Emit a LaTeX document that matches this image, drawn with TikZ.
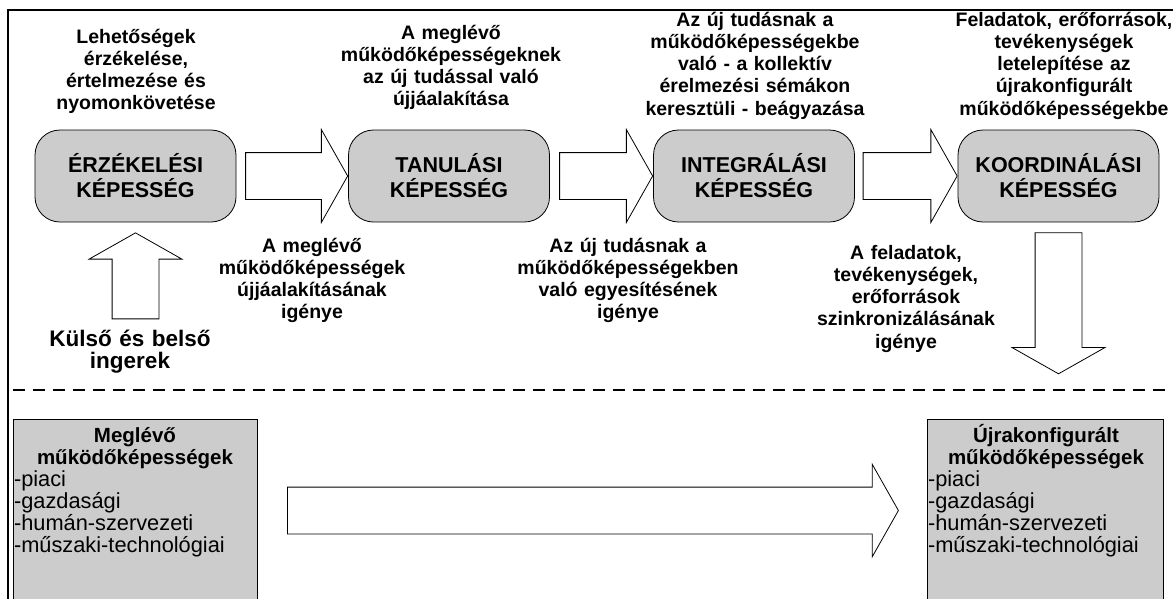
\documentclass[tikz,border=0pt]{standalone}
\usepackage{fontspec}
\setmainfont{Liberation Sans}
\usetikzlibrary{shapes.arrows,calc}
\definecolor{capgray}{RGB}{204,204,204}
\lineskiplimit=-20pt

\begin{document}
\begin{tikzpicture}[x=1pt,y=-1pt,
    capbox/.style={rectangle,rounded corners=25pt,draw,line width=0.8pt,fill=capgray,minimum width=201pt,minimum height=92pt,
      align=center,font=\fontsize{21.5}{25}\selectfont\bfseries},
    desc/.style={text width=240pt,align=center,inner sep=0pt,anchor=base,
      font=\fontsize{19.5}{22.3}\selectfont\bfseries},
    rarrow/.style={single arrow,draw,line width=0.8pt,fill=white,inner sep=0pt,text height=46pt,text depth=0pt,
      single arrow head extend=23pt,single arrow tip angle=121},
    stock/.style={rectangle,draw,line width=0.8pt,fill=capgray,minimum height=200pt,anchor=north west},
    stocklist/.style={text width=230pt,inner sep=0pt,anchor=base,
      font=\fontsize{21.8}{22.2}\selectfont\mdseries}]
    \useasboundingbox (0,0) rectangle (1173,598);
    \clip (0,0) rectangle (1173,598);
    % frame and divider
    \draw[line width=2.2pt] (8,10) rectangle (1200,640);
    \draw[line width=1.5pt,dash pattern=on 12pt off 8pt] (13,390) -- (1180,390);
    % capability boxes
    \node[capbox] (erz) at (135.5,176) {ÉRZÉKELÉSI\\KÉPESSÉG};
    \node[capbox] (tan) at (449,176) {TANULÁSI\\KÉPESSÉG};
    \node[capbox] (intg) at (754,176) {INTEGRÁLÁSI\\KÉPESSÉG};
    \node[capbox] (koo) at (1058.5,176) {KOORDINÁLÁSI\\KÉPESSÉG};
    \node[rarrow,minimum height=102pt,anchor=tip] (a1) at (tan.west) {};
    \node[rarrow,minimum height=93pt,anchor=tip] (a2) at (intg.west) {};
    \node[rarrow,minimum height=94pt,anchor=tip] (a3) at (koo.west) {};
    \node[rarrow,minimum height=86pt,rotate=90,anchor=tip] (inup) at ($(erz.south)+(0,10)$) {};
    \node[rarrow,minimum height=141pt,rotate=-90,anchor=tail] (outdn) at ($(koo.south)+(0,10)$) {};
    % texts above
    \node[desc] (t1) at (136,43) {Lehetőségek\\érzékelése,\\értelmezése és\\nyomonkövetése};
    \node[desc] (t2) at (451,39) {A meglévő\\működőképességeknek\\az új tudással való\\újjáalakítása};
    \node[desc] (t3) at (755,26) {Az új tudásnak a\\működőképességekbe\\való - a kollektív\\érelmezési sémákon\\keresztüli - beágyazása};
    \node[desc] (t4) at (1064,26) {Feladatok, erőforrások,\\tevékenységek\\letelepítése az\\újrakonfigurált\\működőképességekbe};
    % texts below
    \node[desc] (u1) at (312,252) {A meglévő\\működőképességek\\újjáalakításának\\igénye};
    \node[desc] (u2) at (628,252) {Az új tudásnak a\\működőképességekben\\való egyesítésének\\igénye};
    \node[desc] (u3) at (906,259) {A feladatok,\\tevékenységek,\\erőforrások\\szinkronizálásának\\igénye};
    \node[desc,font=\fontsize{22.5}{22}\selectfont\bfseries] (ingr) at (130,346) {Külső és belső\\ingerek};
    % stocks of capabilities
    \node[stock,minimum width=244pt] (megl) at (13,419) {};
    \node[stock,minimum width=236pt] (ujra) at (927,419) {};
    \node[rarrow,minimum height=611pt,anchor=tail] (shift) at (287,510.5) {};
    \node[desc,font=\fontsize{20.5}{22.2}\selectfont\bfseries] (megltit) at (135,442) {Meglévő\\működőképességek};
    \node[stocklist] (megllst) at (129,486) {-piaci\\-gazdasági\\-humán-szervezeti\\-műszaki-technológiai};
    \node[desc,font=\fontsize{20.5}{22.2}\selectfont\bfseries] (ujratit) at (1046,442) {Újrakonfigurált\\működőképességek};
    \node[stocklist] (ujralst) at (1043,486) {-piaci\\-gazdasági\\-humán-szervezeti\\-műszaki-technológiai};
\end{tikzpicture}
\end{document}
